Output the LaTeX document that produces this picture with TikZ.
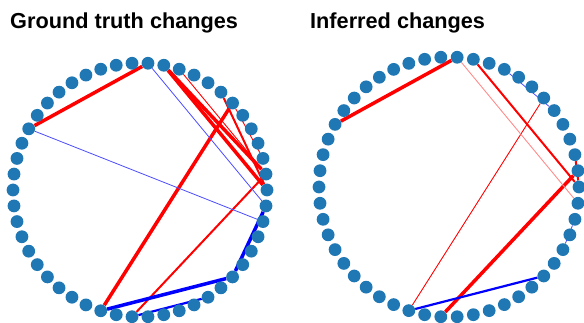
\documentclass[tikz,border=0pt]{standalone}
\usepackage{fontspec}
\setmainfont{Liberation Sans}
\usetikzlibrary{calc, backgrounds}
\definecolor{dotblue}{HTML}{1F77B4}
\definecolor{chgred}{HTML}{FF0000}
\definecolor{chgblue}{HTML}{0000FF}

\begin{document}
\begin{tikzpicture}[
    x=1pt, y=1pt,
    dot/.style={circle, fill=dotblue, inner sep=0pt, minimum size=12.8pt},
    title/.style={anchor=base west, inner sep=0pt, font=\fontsize{21.7}{26}\selectfont\bfseries},
    redfat/.style={chgred, line width=3.5pt},
    redmid/.style={chgred, line width=2pt},
    redthin/.style={chgred, line width=0.9pt},
    redfaint/.style={chgred!45, line width=0.9pt},
    bluefat/.style={chgblue, line width=3.5pt},
    bluemid/.style={chgblue, line width=2.2pt},
    bluethin/.style={chgblue!70, line width=0.8pt},
]
    \useasboundingbox (0,0) rectangle (584,323);

    \node[title] (gttitle) at (10,294.7) {Ground truth changes};
    \node[title] (inftitle) at (310,294.7) {Inferred changes};

    \coordinate (lc) at (140,133);
    \coordinate (rc) at (449,136);
    \foreach \i in {0,...,49} {
        \node[dot] (L\i) at ($(lc)+(7.2*\i:127)$) {};
        \node[dot] (R\i) at ($(rc)+(7.2*\i:130)$) {};
    }

    \begin{scope}[on background layer]
        % ground truth
        \foreach \a/\b in {12/21, 11/0, 11/1, 6/35} \draw[redfat] (L\a) -- (L\b);
        \foreach \a/\b in {7/0, 37/1} \draw[redmid] (L\a) -- (L\b);
        \foreach \a/\b in {10/1, 6/2} \draw[redthin] (L\a) -- (L\b);
        \foreach \a/\b in {35/44, 44/49} \draw[bluefat] (L\a) -- (L\b);
        \draw[bluemid] (L37) -- (L42);
        \foreach \a/\b in {12/49, 21/48} \draw[bluethin] (L\a) -- (L\b);

        % inferred
        \foreach \a/\b in {12/21, 37/1} \draw[redfat] (R\a) -- (R\b);
        \foreach \a/\b in {11/0, 2/0} \draw[redmid] (R\a) -- (R\b);
        \draw[redthin] (R35) -- (R6);
        \draw[redfaint] (R12) -- (R49);
        \draw[bluemid] (R35) -- (R44);
        \foreach \a/\b in {9/5, 48/46} \draw[bluethin] (R\a) -- (R\b);
    \end{scope}
\end{tikzpicture}
\end{document}
